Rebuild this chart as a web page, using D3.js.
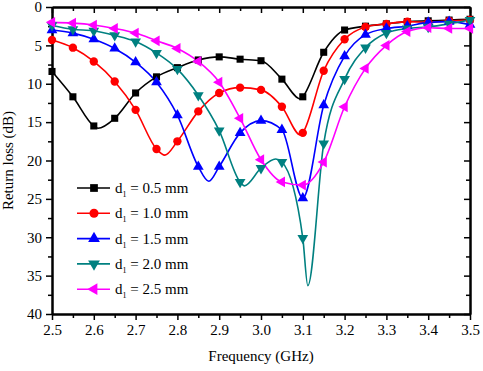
<!DOCTYPE html>
<html>
<head>
<meta charset="utf-8">
<script src="https://cdn.jsdelivr.net/npm/d3@7"></script>
<style>
  body { margin: 0; background: #fff; }
  svg text { font-family: "Liberation Serif", "Times New Roman", serif; fill: #000; }
  .axis path, .axis line { stroke: #000; }
  .axis path { stroke-width: 2; }
  .axis line { stroke-width: 1.5; }
</style>
</head>
<body>
<div id="chart"></div>
<script>
// frequencies where the markers sit (GHz)
var freqs = [2.5, 2.55, 2.6, 2.65, 2.7, 2.75, 2.8, 2.85, 2.9, 2.95, 3.0,
             3.05, 3.1, 3.15, 3.2, 3.25, 3.3, 3.35, 3.4, 3.45, 3.5];

// return loss (dB), one per frequency
var rl05 = [8.4, 11.7, 15.5, 14.5, 11.2, 9.1, 7.9, 6.9, 6.5, 6.8, 7.0,
            9.4, 11.7, 5.9, 3.0, 2.5, 2.2, 1.9, 1.8, 1.7, 1.6];
var rl10 = [4.3, 5.3, 7.1, 9.7, 13.4, 18.5, 17.5, 13.6, 11.2, 10.5, 10.8,
            13.0, 16.4, 8.3, 4.2, 2.6, 2.2, 1.9, 2.0, 1.8, 1.7];
var rl15 = [3.0, 3.4, 4.2, 5.4, 7.2, 9.8, 14.1, 20.8, 20.8, 16.4, 14.8,
            16.0, 24.9, 12.8, 6.4, 3.6, 2.8, 2.5, 2.0, 1.9, 2.3];
var rl20 = [2.4, 2.9, 3.1, 3.7, 4.5, 6.0, 8.1, 11.5, 16.1, 22.8, 21.0,
            20.2, 30.1, 17.8, 9.4, 5.3, 3.4, 2.8, 2.6, 2.2, 1.7];
var rl25 = [2.0, 2.1, 2.35, 2.8, 3.4, 4.4, 5.4, 7.1, 9.8, 14.5, 19.9,
            22.8, 23.2, 20.2, 13.0, 8.0, 5.0, 3.2, 2.7, 2.8, 2.8];

// extra curve points between markers (minima / peaks seen in the picture)
var extra05 = [[2.61, 15.8], [3.095, 12.0]];
var extra10 = [[2.77, 19.3], [3.095, 16.7]];
var extra15 = [[2.875, 22.7]];
var extra20 = [[2.96, 23.3], [3.035, 19.8], [3.112, 36.3]];
var extra25 = [];

var seriesNames = ["0.5", "1.0", "1.5", "2.0", "2.5"];
var seriesColors = ["#000000", "#ff0000", "#0000ff", "#008080", "#ff00ff"];

var xTicks = [2.5, 2.6, 2.7, 2.8, 2.9, 3.0, 3.1, 3.2, 3.3, 3.4, 3.5];
var yTicks = [0, 5, 10, 15, 20, 25, 30, 35, 40];

var full_width = 483, full_height = 371;
var margin = {top: 7, right: 13, bottom: 57, left: 52};
var width = full_width - margin.left - margin.right;
var height = full_height - margin.top - margin.bottom;

var svg = d3.select("#chart").append("svg")
            .attr("width", full_width)
            .attr("height", full_height)
            .append("g")
            .attr("transform", "translate(" + margin.left + "," + margin.top + ")");

var x = d3.scaleLinear().domain([2.5, 3.5]).range([0, width]);
var y = d3.scaleLinear().domain([0, 40]).range([0, height]);

var xMinor = d3.range(2.55, 3.5, 0.1);
var yMinor = d3.range(2.5, 40, 5);

// bottom axis (ticks out)
svg.append("g").attr("class", "axis")
   .attr("transform", "translate(0," + height + ")")
   .call(d3.axisBottom(x).tickValues(xMinor).tickSize(4).tickFormat("").tickSizeOuter(0));
svg.append("g").attr("class", "axis")
   .attr("transform", "translate(0," + height + ")")
   .call(d3.axisBottom(x).tickValues(xTicks).tickSize(6).tickPadding(4)
           .tickFormat(d3.format(".1f")).tickSizeOuter(0))
   .selectAll("text").style("font-size", "15px");

// top axis (ticks in)
svg.append("g").attr("class", "axis")
   .call(d3.axisTop(x).tickValues(xMinor).tickSize(-4).tickFormat("").tickSizeOuter(0));
svg.append("g").attr("class", "axis")
   .call(d3.axisTop(x).tickValues(xTicks).tickSize(-6).tickFormat("").tickSizeOuter(0));

// left axis (ticks out)
svg.append("g").attr("class", "axis")
   .call(d3.axisLeft(y).tickValues(yMinor).tickSize(4).tickFormat("").tickSizeOuter(0));
svg.append("g").attr("class", "axis")
   .call(d3.axisLeft(y).tickValues(yTicks).tickSize(6).tickPadding(4).tickSizeOuter(0))
   .selectAll("text").style("font-size", "15px");

// right axis (ticks in)
svg.append("g").attr("class", "axis")
   .attr("transform", "translate(" + width + ",0)")
   .call(d3.axisRight(y).tickValues(yMinor).tickSize(-4).tickFormat("").tickSizeOuter(0));
svg.append("g").attr("class", "axis")
   .attr("transform", "translate(" + width + ",0)")
   .call(d3.axisRight(y).tickValues(yTicks).tickSize(-6).tickFormat("").tickSizeOuter(0));

// axis titles
svg.append("text")
   .attr("x", width / 2).attr("y", height + 47)
   .attr("text-anchor", "middle")
   .style("font-size", "15px")
   .text("Frequency (GHz)");

svg.append("text")
   .attr("transform", "translate(" + (-39) + "," + (height / 2) + ") rotate(-90)")
   .attr("text-anchor", "middle")
   .style("font-size", "15px")
   .text("Return loss (dB)");

// series
var mainValues = [rl05, rl10, rl15, rl20, rl25];
var extraValues = [extra05, extra10, extra15, extra20, extra25];
var symbols = [d3.symbolSquare, d3.symbolCircle, d3.symbolTriangle, d3.symbolTriangle, d3.symbolTriangle];
var rotations = [0, 0, 0, 180, -90];
var symbolSizes = [50, 55, 50, 50, 50];

var series = seriesNames.map(function(name, i){
    var markers = freqs.map(function(f, j){ return {f: f, v: mainValues[i][j]}; });
    var pts = markers.concat(extraValues[i].map(function(e){ return {f: e[0], v: e[1]}; }));
    pts.sort(function(a, b){ return a.f - b.f; });
    return {name: name, color: seriesColors[i], markers: markers, pts: pts,
            symbol: symbols[i], rot: rotations[i], size: symbolSizes[i]};
});

var line = d3.line()
             .x(function(d){ return x(d.f); })
             .y(function(d){ return y(d.v); })
             .curve(d3.curveMonotoneX);

var plot = svg.append("g");

series.forEach(function(s){
    plot.append("path")
        .datum(s.pts)
        .attr("fill", "none")
        .attr("stroke", s.color)
        .attr("stroke-width", 1.6)
        .attr("d", line);
});

series.forEach(function(s){
    plot.selectAll(null)
        .data(s.markers)
        .enter()
        .append("path")
        .attr("d", d3.symbol().type(s.symbol).size(s.size))
        .attr("fill", s.color)
        .attr("transform", function(d){
            return "translate(" + x(d.f) + "," + y(d.v) + ") rotate(" + s.rot + ")";
        });
});

// legend
var legend = svg.append("g").attr("transform", "translate(25,181)");
series.forEach(function(s, i){
    var g = legend.append("g").attr("transform", "translate(0," + (i * 25.3) + ")");
    g.append("line")
     .attr("x1", 0).attr("x2", 33)
     .attr("stroke", s.color).attr("stroke-width", 1.6);
    g.append("path")
     .attr("d", d3.symbol().type(s.symbol).size(s.size + 10))
     .attr("fill", s.color)
     .attr("transform", "translate(17,0) rotate(" + s.rot + ")");
    var t = g.append("text")
             .attr("x", 38).attr("y", 5)
             .style("font-size", "15px");
    t.append("tspan").text("d");
    t.append("tspan").attr("dy", 4).style("font-size", "8px").text("1");
    t.append("tspan").attr("dy", -4).text(" = " + s.name + " mm");
});
</script>
</body>
</html>
